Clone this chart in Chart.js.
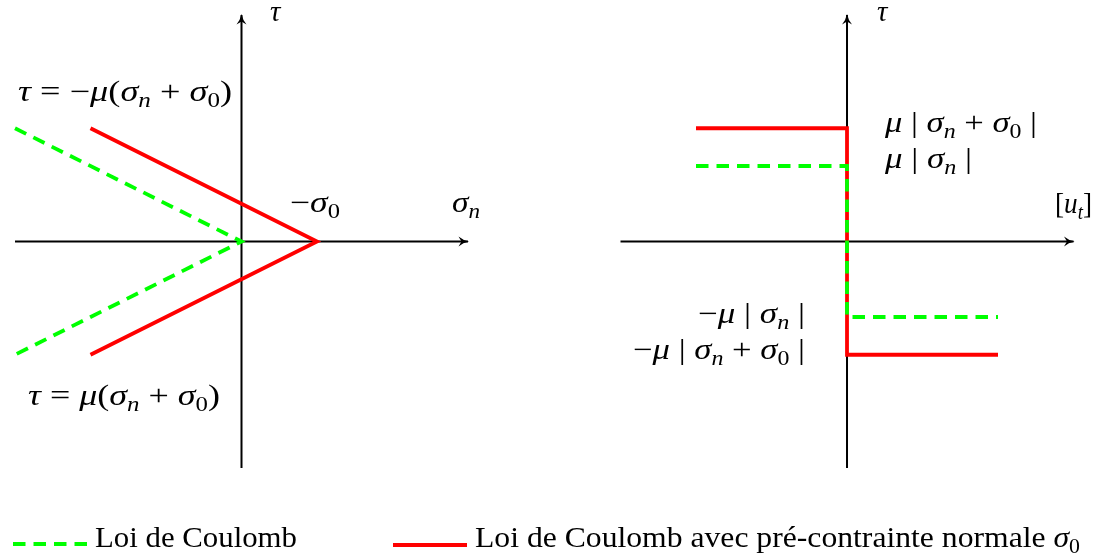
<!DOCTYPE html>
<html>
<head>
<meta charset="utf-8">
<script src="https://cdn.jsdelivr.net/npm/chart.js@4.4.1/dist/chart.umd.min.js"></script>
<style>
  html, body { margin: 0; padding: 0; background: #fff; }
  #box { width: 1097px; height: 556px; }
</style>
</head>
<body>
<div id="box"><canvas id="chartBox" width="1097" height="556"></canvas></div>
<script>
// values (1 unit ~ 75 px)
const axisMin = -3
const axisMax = 3

// left panel: tau vs sigma_n
const coulombLeftX = [-3, 0, -3]
const coulombLeftY = [1.5, 0, -1.5]
const prestressLeftX = [-2, 1, -2]
const prestressLeftY = [1.5, 0, -1.5]

// right panel: tau vs [u_t]
const coulombRightX = [-2, 0, 0, 2]
const coulombRightY = [1, 1, -1, -1]
const prestressRightX = [-2, 0, 0, 2]
const prestressRightY = [1.5, 1.5, -1.5, -1.5]

const legendLabels = ['Loi de Coulomb', 'Loi de Coulomb avec pré-contrainte normale ']

const green = 'rgb(0, 255, 0)'
const red = 'rgb(255, 0, 0)'
const dash = [12.5, 8]
const FONT = '"Liberation Serif", "Times New Roman", serif'
const BASE = 29
const SUB = 20

const toPoints = (xs, ys) => xs.map((x, i) => ({ x, y: ys[i] }))

const lineSet = (xs, ys, axis, color, dashed, width) => ({
    data: toPoints(xs, ys),
    xAxisID: axis,
    borderColor: color,
    borderWidth: width,
    borderDash: dashed ? dash : [],
    borderJoinStyle: 'miter',
    borderCapStyle: 'butt',
    pointRadius: 0,
    fill: false,
    tension: 0,
    clip: false
})

// rich text: [text, italic, subscript]
const drawRich = (ctx, segs, x, y, width, align) => {
    const fontOf = s => (s[1] ? 'italic ' : '') + (s[2] ? SUB : BASE) + 'px ' + FONT
    let total = 0
    const widths = segs.map(s => {
        ctx.font = fontOf(s)
        const w = ctx.measureText(s[0]).width
        total += w
        return w
    })
    const sx = width ? width / total : 1
    const x0 = align === 'right' ? x - total * sx : x
    ctx.save()
    ctx.translate(x0, y)
    ctx.scale(sx, 1)
    ctx.fillStyle = '#000'
    ctx.textBaseline = 'alphabetic'
    ctx.textAlign = 'left'
    let cx = 0
    segs.forEach((s, i) => {
        ctx.font = fontOf(s)
        ctx.fillText(s[0], cx, s[2] ? 6 : 0)
        cx += widths[i]
    })
    ctx.restore()
}

const arrowHead = (ctx, tx, ty, dir) => {
    ctx.save()
    ctx.translate(tx, ty)
    ctx.rotate(dir === 'up' ? -Math.PI / 2 : 0)
    ctx.fillStyle = '#000'
    ctx.beginPath()
    ctx.moveTo(1, 0)
    ctx.quadraticCurveTo(-5, -1.2, -9.5, -5)
    ctx.lineTo(-6.5, 0)
    ctx.lineTo(-9.5, 5)
    ctx.quadraticCurveTo(-5, 1.2, 1, 0)
    ctx.fill()
    ctx.restore()
}

const annotate = {
    id: 'annotate',
    afterDatasetsDraw(chart) {
        const ctx = chart.ctx
        const y = chart.scales.y
        const xl = chart.scales.x
        const xr = chart.scales.x2
        // arrow heads at axis ends
        arrowHead(ctx, xl.getPixelForValue(axisMax), y.getPixelForValue(0), 'right')
        arrowHead(ctx, xl.getPixelForValue(0), y.getPixelForValue(axisMax), 'up')
        arrowHead(ctx, xr.getPixelForValue(axisMax), y.getPixelForValue(0), 'right')
        arrowHead(ctx, xr.getPixelForValue(0), y.getPixelForValue(axisMax), 'up')

        // left panel labels
        drawRich(ctx, [['τ', true]], 270, 21)
        drawRich(ctx, [['τ', true], [' = −', false], ['μ', true], ['(', false], ['σ', true], ['n', true, true],
            [' + ', false], ['σ', true], ['0', false, true], [')', false]], 18, 101, 214)
        drawRich(ctx, [['−', false], ['σ', true], ['0', false, true]], 290, 212, 50)
        drawRich(ctx, [['σ', true], ['n', true, true]], 452, 212, 28)
        drawRich(ctx, [['τ', true], [' = ', false], ['μ', true], ['(', false], ['σ', true], ['n', true, true],
            [' + ', false], ['σ', true], ['0', false, true], [')', false]], 28, 405, 192)

        // right panel labels
        drawRich(ctx, [['τ', true]], 877, 21)
        drawRich(ctx, [['μ', true], [' | ', false], ['σ', true], ['n', true, true], [' + ', false],
            ['σ', true], ['0', false, true], [' |', false]], 885, 132, 152)
        drawRich(ctx, [['μ', true], [' | ', false], ['σ', true], ['n', true, true], [' |', false]], 885, 168, 87)
        drawRich(ctx, [['−', false], ['μ', true], [' | ', false], ['σ', true], ['n', true, true], [' |', false]],
            805, 323, 107, 'right')
        drawRich(ctx, [['−', false], ['μ', true], [' | ', false], ['σ', true], ['n', true, true], [' + ', false],
            ['σ', true], ['0', false, true], [' |', false]], 805, 359, 172, 'right')
        drawRich(ctx, [['[', false], ['u', true], ['t', true, true], [']', false]], 1055, 213, 37)

        // legend
        ctx.save()
        ctx.lineWidth = 3.8
        ctx.lineCap = 'butt'
        ctx.strokeStyle = green
        ctx.setLineDash(dash)
        ctx.beginPath()
        ctx.moveTo(13, 544)
        ctx.lineTo(90, 544)
        ctx.stroke()
        ctx.setLineDash([])
        ctx.strokeStyle = red
        ctx.beginPath()
        ctx.moveTo(393, 545)
        ctx.lineTo(467, 545)
        ctx.stroke()
        ctx.restore()
        drawRich(ctx, [[legendLabels[0], false]], 95, 547, 202)
        drawRich(ctx, [[legendLabels[1], false], ['σ', true], ['0', false, true]], 475, 547, 605)
    }
}

const loadChart = () => {
    const context = document.querySelector('#chartBox').getContext('2d')
    return new Chart(context, {
        type: 'line',
        data: {
            datasets: [
                lineSet(coulombRightX, coulombRightY, 'x2', green, true, 3.8),
                lineSet(prestressRightX, prestressRightY, 'x2', red, false, 3.8),
                lineSet(coulombLeftX, coulombLeftY, 'x', green, true, 3.8),
                lineSet(prestressLeftX, prestressLeftY, 'x', red, false, 3.8),
                // axes
                lineSet([axisMin, axisMax], [0, 0], 'x', '#000', false, 2),
                lineSet([0, 0], [axisMin, axisMax], 'x', '#000', false, 2),
                lineSet([axisMin, axisMax], [0, 0], 'x2', '#000', false, 2),
                lineSet([0, 0], [axisMin, axisMax], 'x2', '#000', false, 2)
            ]
        },
        options: {
            responsive: false,
            animation: false,
            devicePixelRatio: 1,
            layout: { padding: { left: 15, right: 25, top: 15, bottom: 88 } },
            scales: {
                x: { type: 'linear', display: false, min: -3, max: 11 },
                x2: { type: 'linear', display: false, min: -11.02, max: 2.98 },
                y: { type: 'linear', display: false, min: axisMin, max: axisMax }
            },
            plugins: {
                legend: { display: false },
                tooltip: { enabled: false }
            }
        },
        plugins: [annotate]
    })
}

loadChart()
</script>
</body>
</html>
